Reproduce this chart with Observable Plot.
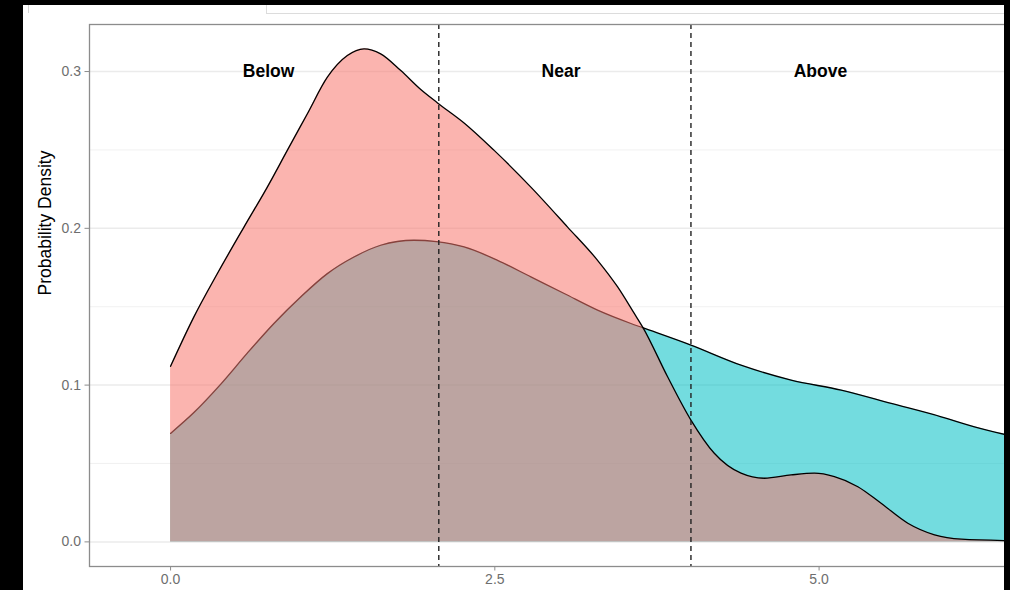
<!DOCTYPE html>
<html>
<head>
<meta charset="utf-8">
<script src="https://cdn.jsdelivr.net/npm/d3@7"></script>
<script src="https://cdn.jsdelivr.net/npm/@observablehq/plot@0.6"></script>
<style>
  html, body { margin: 0; padding: 0; background: #000; width: 1010px; height: 590px; overflow: hidden; }
  #sheet { position: absolute; left: 23px; top: 5px; width: 981px; height: 585px; background: #fff; overflow: hidden; }
  #chart { position: absolute; left: -23px; top: -5px; width: 1078px; height: 590px; }
  #chart svg { max-width: none !important; }
  #strip { position: absolute; left: 243px; top: -10px; width: 900px; height: 17px; border: 1px solid #dcdcdc; }
  #tick { position: absolute; left: 5px; top: 0; width: 1px; height: 8px; background: #d4d4d4; }
</style>
</head>
<body>
<div id="sheet"><div id="strip"></div><div id="tick"></div><div id="chart"></div></div>
<script>
// Density estimate of the narrow, early-peaking group
const peakedX = [0, 0.18, 0.36, 0.566, 0.746, 0.90, 1.055, 1.209, 1.363, 1.492, 1.62, 1.775, 1.929, 2.058, 2.263, 2.495, 2.778, 3.061, 3.292, 3.447, 3.575, 3.64, 3.832, 4.012, 4.192, 4.398, 4.578, 4.784, 4.964, 5.118, 5.299, 5.478, 5.684, 5.89, 6.096, 6.45];
const peakedY = [0.112, 0.1435, 0.171, 0.2008, 0.2263, 0.2497, 0.2731, 0.2964, 0.3102, 0.3145, 0.3113, 0.3006, 0.2885, 0.2800, 0.2672, 0.2497, 0.2263, 0.2008, 0.1796, 0.1626, 0.1457, 0.137, 0.1053, 0.0777, 0.0565, 0.0438, 0.0406, 0.0427, 0.0438, 0.0416, 0.0352, 0.0246, 0.0119, 0.0045, 0.0017, 0.0008];

// Density estimate of the wide, long-tailed group
const spreadX = [0, 0.18, 0.386, 0.59, 0.797, 1.003, 1.209, 1.414, 1.62, 1.877, 2.05, 2.263, 2.521, 2.778, 3.035, 3.292, 3.549, 3.64, 4.012, 4.398, 4.784, 5.17, 5.556, 5.941, 6.198, 6.45];
const spreadY = [0.0692, 0.0825, 0.1005, 0.1202, 0.1393, 0.1562, 0.1711, 0.1817, 0.1892, 0.1924, 0.1915, 0.1881, 0.1796, 0.169, 0.1584, 0.1478, 0.1393, 0.1366, 0.1255, 0.1127, 0.1032, 0.0968, 0.0883, 0.0798, 0.0734, 0.0682];

// Zone boundaries and zone labels
const cutPoints = [2.068, 4.012];
const zoneNames = ["Below", "Near", "Above"];
const zoneX = [0.756, 3.01, 5.01];
const zoneY = [0.3, 0.3, 0.3];

// Axis ticks
const xTicks = [0, 2.5, 5];
const yTicks = [0, 0.1, 0.2, 0.3];
const yMinorTicks = [0.05, 0.15, 0.25];

const peaked = peakedX.map((x, i) => ({x, y: peakedY[i]}));
const spread = spreadX.map((x, i) => ({x, y: spreadY[i]}));
const zones = zoneNames.map((name, i) => ({name, x: zoneX[i], y: zoneY[i]}));

const curve = "monotone-x";
const fmt = d3.format(".1f");

const chart = Plot.plot({
  width: 1078,
  height: 590,
  marginLeft: 89,
  marginRight: 0,
  marginTop: 24,
  marginBottom: 24,
  style: {fontFamily: "'Liberation Sans', Arial, sans-serif", background: "transparent", overflow: "visible", maxWidth: "none"},
  x: {domain: [-0.625, 7.0]},
  y: {domain: [-0.0157, 0.330]},
  marks: [
    Plot.gridY(yMinorTicks, {stroke: "#eeeeee", strokeOpacity: 1, strokeWidth: 0.8}),
    Plot.gridY(yTicks, {stroke: "#ebebeb", strokeOpacity: 1, strokeWidth: 1.5}),
    Plot.areaY(spread, {x: "x", y: "y", fill: "#00BFC4", fillOpacity: 0.55, curve}),
    Plot.line(spread, {x: "x", y: "y", stroke: "#000", strokeWidth: 1.3, curve}),
    Plot.areaY(peaked, {x: "x", y: "y", fill: "#F8766D", fillOpacity: 0.55, curve}),
    Plot.line(peaked, {x: "x", y: "y", stroke: "#000", strokeWidth: 1.3, curve}),
    Plot.ruleX(cutPoints, {stroke: "#222", strokeWidth: 1.4, strokeDasharray: "5,4"}),
    Plot.text(zones, {x: "x", y: "y", text: "name", fontWeight: "bold", fontSize: 17.5, fill: "#000"}),
    Plot.frame({stroke: "#8c8c8c", strokeWidth: 1.3}),
    Plot.axisY(yTicks, {tickFormat: fmt, tickSize: 4.5, tickPadding: 4, fontSize: 14, color: "#6e6e6e", stroke: "#8c8c8c", label: null}),
    Plot.axisX(xTicks, {tickFormat: fmt, tickSize: 4.5, tickPadding: 3, fontSize: 14, color: "#6e6e6e", stroke: "#8c8c8c", label: null}),
    Plot.text(["Probability Density"], {text: d => d, frameAnchor: "left", rotate: -90, dx: -44, fontSize: 17.5, fill: "#000"})
  ]
});

document.getElementById("chart").appendChild(chart);
</script>
</body>
</html>
